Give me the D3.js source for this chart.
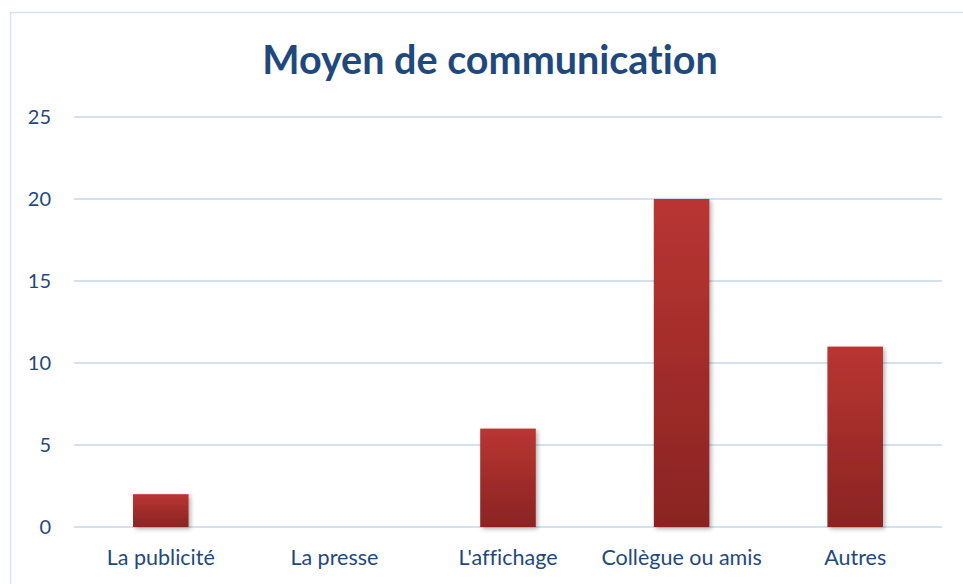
<!DOCTYPE html>
<html>
<head>
<meta charset="utf-8">
<script src="https://cdn.jsdelivr.net/npm/d3@7"></script>
<style>
  html, body { margin: 0; padding: 0; background: #fff; }
  svg { display: block; font-family: Lato, "Open Sans", sans-serif; font-variant-ligatures: none; }
</style>
</head>
<body>
<div id="viz"></div>
<script>
const categories = ['La publicité', 'La presse', "L'affichage", 'Collègue ou amis', 'Autres'];
const values = [2, 0, 6, 20, 11];
const yTicks = [0, 5, 10, 15, 20, 25];
const title = 'Moyen de communication';

const width = 963, height = 584;
const margin = {top: 117, right: 21, bottom: 57, left: 74};

const svg = d3.select('#viz').append('svg')
  .attr('width', width)
  .attr('height', height);

const defs = svg.append('defs');
const grad = defs.append('linearGradient')
  .attr('id', 'barGrad')
  .attr('x1', 0).attr('y1', 0).attr('x2', 0).attr('y2', 1);
grad.append('stop').attr('offset', '0%').attr('stop-color', '#b93532');
grad.append('stop').attr('offset', '100%').attr('stop-color', '#8a2423');

const shadow = defs.append('filter').attr('id', 'shadow')
  .attr('x', '-20%').attr('y', '-10%').attr('width', '150%').attr('height', '130%');
shadow.append('feDropShadow')
  .attr('dx', 2).attr('dy', 2).attr('stdDeviation', 2)
  .attr('flood-color', '#000').attr('flood-opacity', 0.3);

// chart frame
svg.append('rect')
  .attr('x', 10.5).attr('y', 12.5)
  .attr('width', 970).attr('height', 600)
  .attr('fill', 'none')
  .attr('stroke', '#d5e3f2')
  .attr('stroke-width', 1.5);

const x = d3.scaleBand()
  .domain(categories)
  .range([margin.left, width - margin.right])
  .paddingInner(0.68)
  .paddingOuter(0.34);

const y = d3.scaleLinear()
  .domain([0, 25])
  .range([height - margin.bottom, margin.top]);

// gridlines
svg.append('g')
  .selectAll('line')
  .data(yTicks)
  .join('line')
  .attr('x1', margin.left)
  .attr('x2', width - margin.right)
  .attr('y1', d => y(d))
  .attr('y2', d => y(d))
  .attr('stroke', '#d3e1f1')
  .attr('stroke-width', 2);

// y labels
svg.append('g')
  .selectAll('text')
  .data(yTicks)
  .join('text')
  .attr('x', 51)
  .attr('y', d => y(d))
  .attr('dy', '0.35em')
  .attr('text-anchor', 'end')
  .attr('fill', '#1f497d')
  .style('font-size', '20px')
  .text(d => d);

// bars
svg.append('g')
  .selectAll('rect')
  .data(categories.map((c, i) => ({cat: c, val: values[i]})).filter(d => d.val > 0))
  .join('rect')
  .attr('x', d => x(d.cat))
  .attr('y', d => y(d.val))
  .attr('width', x.bandwidth())
  .attr('height', d => y(0) - y(d.val))
  .attr('fill', 'url(#barGrad)')
  .attr('filter', 'url(#shadow)');

// x labels
svg.append('g')
  .selectAll('text')
  .data(categories)
  .join('text')
  .attr('x', d => x(d) + x.bandwidth() / 2)
  .attr('y', 557)
  .attr('dy', '0.35em')
  .attr('text-anchor', 'middle')
  .attr('fill', '#1f497d')
  .style('font-size', '21.5px')
  .text(d => d);

// title
svg.append('text')
  .attr('x', 490)
  .attr('y', 60)
  .attr('dy', '0.35em')
  .attr('text-anchor', 'middle')
  .attr('fill', '#1f497d')
  .style('font-size', '39.5px')
  .style('font-weight', 'bold')
  .text(title);
</script>
</body>
</html>
